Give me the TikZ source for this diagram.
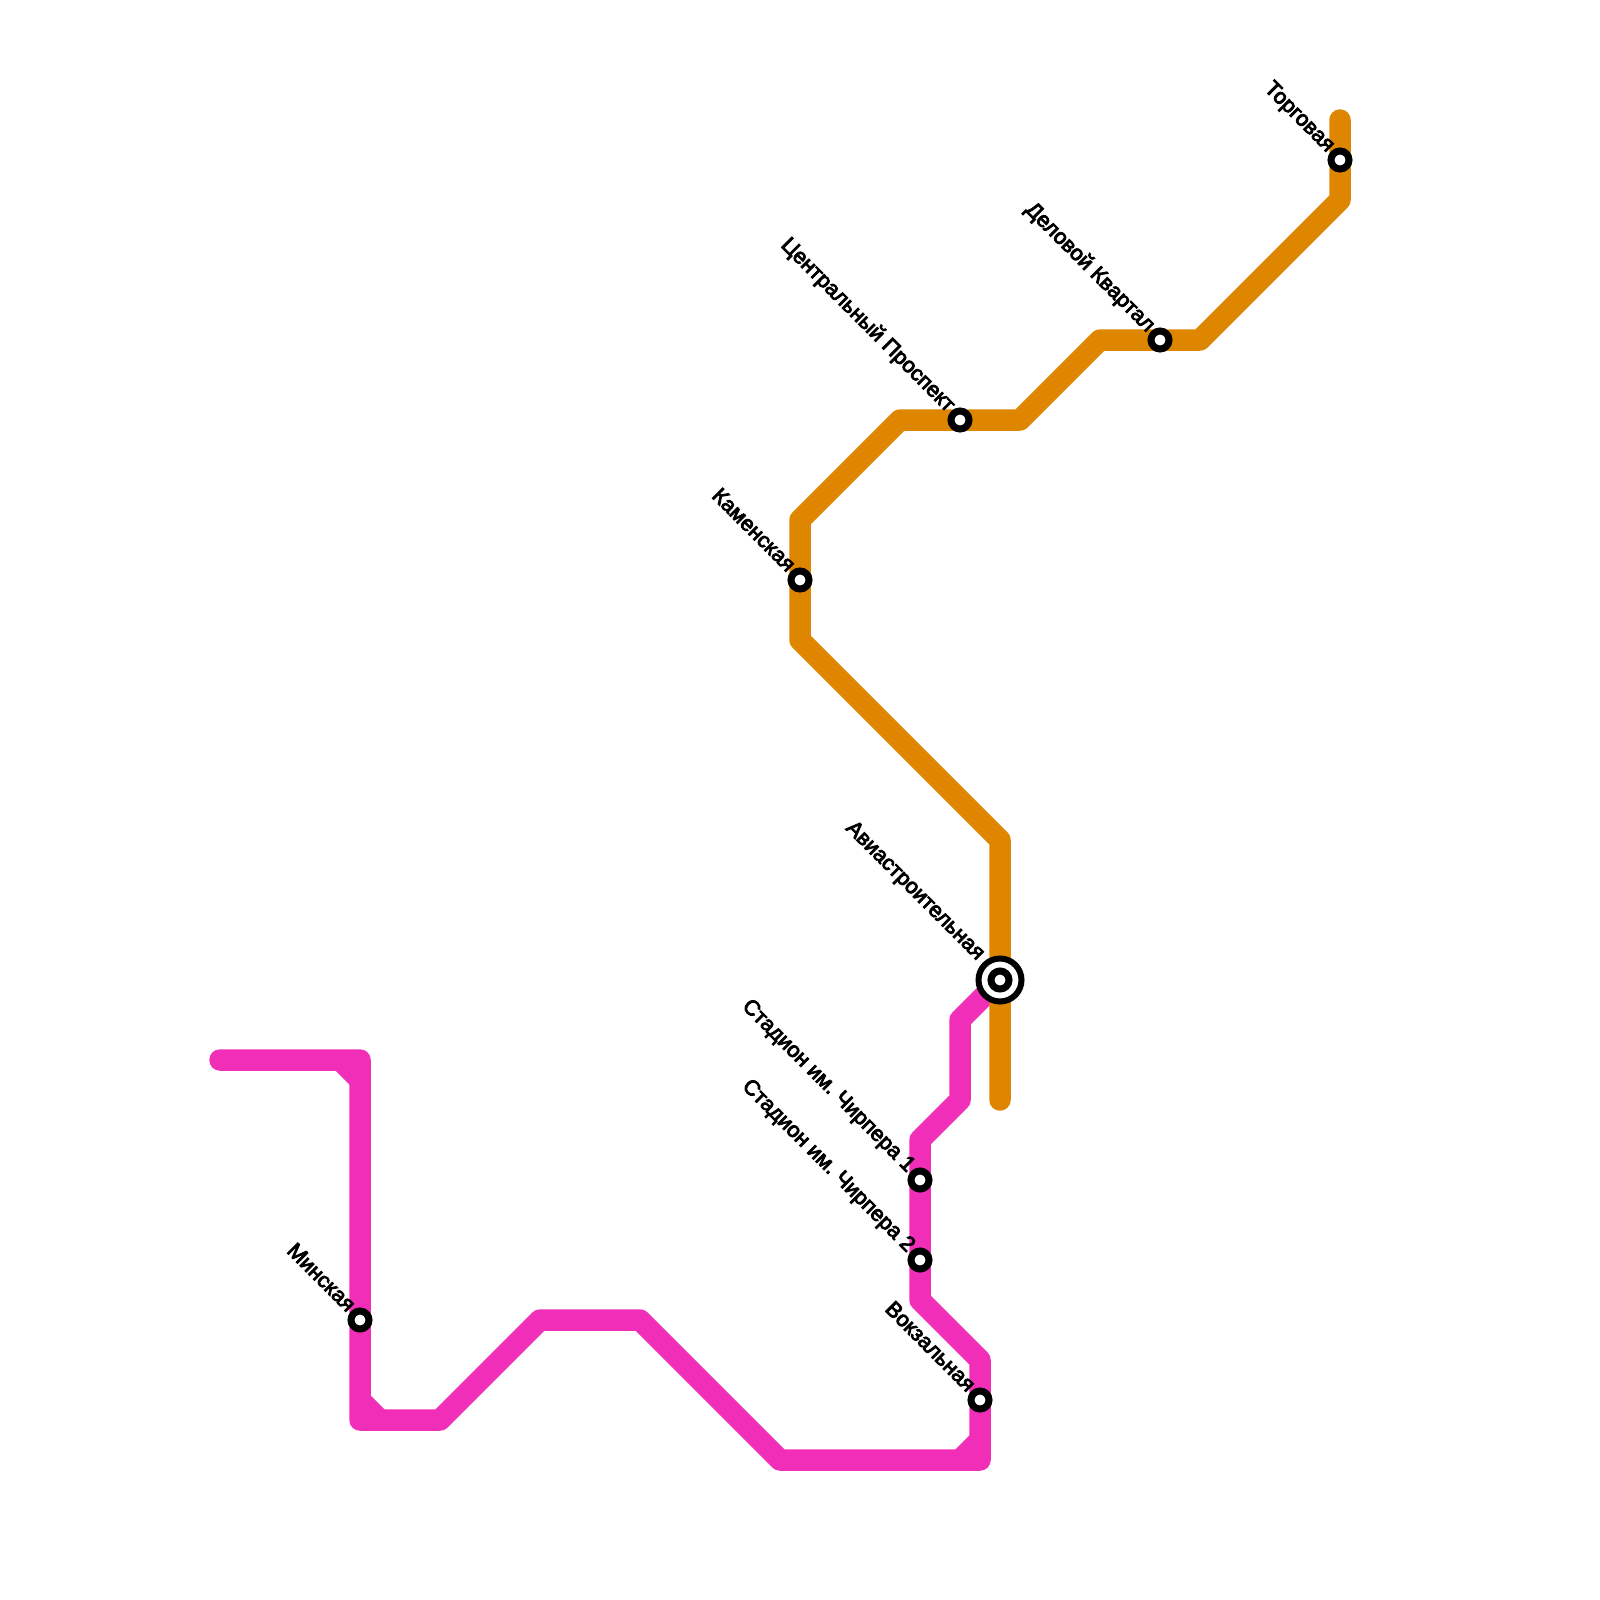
\documentclass[tikz,border=0pt]{standalone}
\usepackage{fontspec}
\setmainfont{Liberation Sans}
\newfontfamily\labfont[FakeBold=4]{Liberation Sans}
\definecolor{linepink}{HTML}{F02EB8}
\definecolor{lineorange}{HTML}{DF8600}
\tikzset{
  x=1pt,y=-1pt,
  metro/.style={line width=21.5pt,line join=round,line cap=round},
  pinkline/.style={metro,draw=linepink},
  orangeline/.style={metro,draw=lineorange},
  pinkfill/.style={draw=linepink,line width=21.5pt,line cap=butt},
  st/.style={circle,draw=black,fill=white,line width=7pt,minimum size=18pt,inner sep=0pt},
  hubouter/.style={circle,draw=black,fill=white,line width=6pt,minimum size=43pt,inner sep=0pt},
  lab/.style={rotate=-45,anchor=base east,inner sep=0pt,font=\labfont\fontsize{21.5}{21.5}\selectfont\frenchspacing,text=black},
}
\begin{document}
\begin{tikzpicture}
\useasboundingbox (0,0) rectangle (1600,1600);
\coordinate (p0) at (220,1060);
\coordinate (p1) at (360,1060);
\coordinate (p2) at (360,1420);
\coordinate (p3) at (440,1420);
\coordinate (p4) at (540,1320);
\coordinate (p5) at (640,1320);
\coordinate (p6) at (780,1460);
\coordinate (p7) at (980,1460);
\coordinate (p8) at (980,1360);
\coordinate (p9) at (920,1300);
\coordinate (p10) at (920,1140);
\coordinate (p11) at (960,1100);
\coordinate (p12) at (960,1020);
\coordinate (p13) at (1000,980);
\draw[pinkline] (p0)--(p1)--(p2)--(p3)--(p4)--(p5)--(p6)--(p7)--(p8)--(p9)--(p10)--(p11)--(p12)--(p13);
\coordinate (c1a) at (340,1060);
\coordinate (c1b) at (360,1080);
\coordinate (c2a) at (360,1400);
\coordinate (c2b) at (380,1420);
\coordinate (c3a) at (980,1440);
\coordinate (c3b) at (960,1460);
\draw[pinkfill] (c1a)--(c1b);
\draw[pinkfill] (c2a)--(c2b);
\draw[pinkfill] (c3a)--(c3b);
\coordinate (o0) at (1340,120);
\coordinate (o1) at (1340,200);
\coordinate (o2) at (1200,340);
\coordinate (o3) at (1100,340);
\coordinate (o4) at (1020,420);
\coordinate (o5) at (900,420);
\coordinate (o6) at (800,520);
\coordinate (o7) at (800,640);
\coordinate (o8) at (1000,840);
\coordinate (o9) at (1000,1100);
\draw[orangeline] (o0)--(o1)--(o2)--(o3)--(o4)--(o5)--(o6)--(o7)--(o8)--(o9);
\node[st] (s1) at (1340,160) {};
\node[st] (s2) at (1160,340) {};
\node[st] (s3) at (960,420) {};
\node[st] (s4) at (800,580) {};
\node[hubouter] (s5o) at (1000,980) {};
\node[st] (s5) at (1000,980) {};
\node[st] (s6) at (920,1180) {};
\node[st] (s7) at (920,1260) {};
\node[st] (s8) at (980,1400) {};
\node[st] (s9) at (360,1320) {};
\node[lab] (t1) at (1327,153) {Торговая};
\node[lab] (t2) at (1147,333) {Деловой Квартал};
\node[lab] (t3) at (947,413) {Центральный Проспект};
\node[lab] (t4) at (787,573) {Каменская};
\node[lab] (t5) at (977,961) {Авиастроительная};
\node[lab] (t6) at (907,1173) {Стадион им. Чирпера 1};
\node[lab] (t7) at (907,1253) {Стадион им. Чирпера 2};
\node[lab] (t8) at (967,1393) {Вокзальная};
\node[lab] (t9) at (347,1313) {Минская};
\end{tikzpicture}
\end{document}
